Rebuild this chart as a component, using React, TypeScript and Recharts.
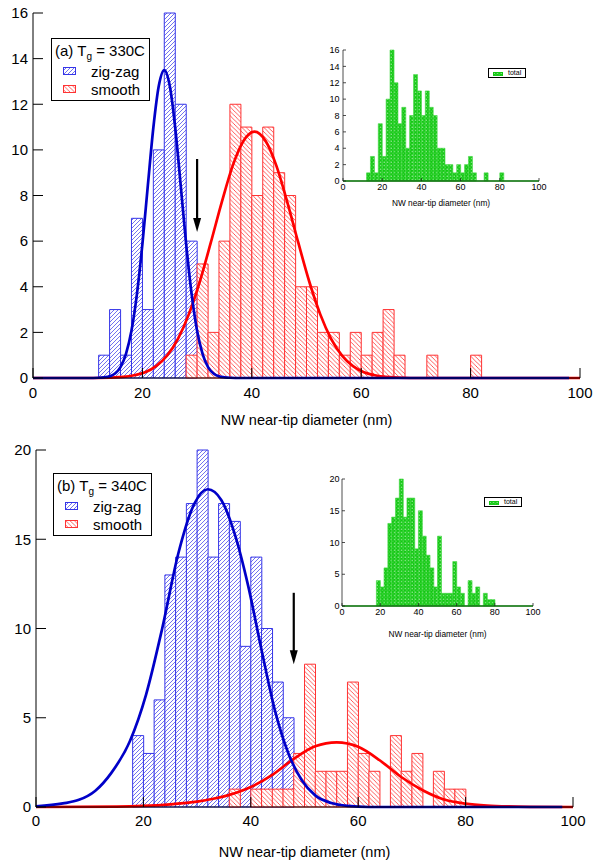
import React from 'react'
import { ComposedChart, BarChart, Bar, Line, XAxis, YAxis, ReferenceLine, Legend } from 'recharts'

const FONT = '"Liberation Sans", Arial, Helvetica, sans-serif'

// histogram counts in 2 nm bins; *_START is the left edge of the first bin
const BIN = 2
const ZIGZAG_A_START = 12
const zigzagA = [1, 3, 1, 7, 3, 10, 16, 12, 6]
const SMOOTH_A_START = 28
const smoothA = [1, 5, 2, 6, 12, 11, 8, 11, 9, 8, 4, 4, 2, 2, 1, 2, 1, 2, 3, 1, 0, 0, 1, 0, 0, 0, 1]
const TOTAL_A_START = 12
const totalA = [1, 3, 1, 7, 3, 10, 16, 12, 7, 9, 4, 8, 13, 11, 8, 11, 9, 8, 4, 4, 2, 2, 1, 2, 1, 2, 3, 1, 0, 0, 1, 0, 0, 0, 1]

const ZIGZAG_B_START = 18
const zigzagB = [4, 3, 6, 13, 14, 17, 20, 14, 17, 16, 9, 14, 10, 7, 5]
const SMOOTH_B_START = 36
const smoothB = [1, 0, 1, 1, 1, 1, 3, 8, 2, 2, 2, 7, 3, 2, 0, 4, 2, 3, 0, 2, 1, 1]
const TOTAL_B_START = 18
const totalB = [4, 3, 6, 13, 14, 17, 20, 14, 17, 17, 9, 15, 11, 8, 6, 3, 11, 2, 2, 2, 7, 3, 2, 0, 4, 2, 3, 0, 2, 1, 1]

// fitted curves, [diameter, count]
const fitZigzagA = [
  [0, 0], [10, 0], [12, 0.01], [13, 0.03], [14, 0.07], [15, 0.2], [16, 0.48], [17, 1.06], [18, 2.07],
  [19, 3.68], [20, 5.87], [21, 8.45], [22, 10.97], [23, 12.81], [24, 13.5], [25, 12.81], [26, 10.97],
  [27, 8.45], [28, 5.87], [29, 3.68], [30, 2.07], [31, 1.06], [32, 0.48], [33, 0.2], [34, 0.07],
  [35, 0.03], [36, 0.01], [38, 0], [98, 0],
]
const fitSmoothA = [
  [0, 0], [12, 0], [16.5, 0.05], [18.5, 0.12], [20.5, 0.25], [22.5, 0.52], [24.5, 0.98], [26.5, 1.72],
  [28.5, 2.8], [30.5, 4.23], [32.5, 5.93], [34.5, 7.7], [36.5, 9.3], [38.5, 10.4], [40.5, 10.8],
  [42.5, 10.4], [44.5, 9.3], [46.5, 7.7], [48.5, 5.93], [50.5, 4.23], [52.5, 2.8], [54.5, 1.72],
  [56.5, 0.98], [58.5, 0.52], [60.5, 0.25], [62.5, 0.12], [64.5, 0.05], [69, 0], [100, 0],
]
const fitZigzagB = [
  [0, 0.03], [5, 0.2], [8, 0.4], [11, 0.9], [14, 1.9], [17.5, 3.7], [20.5, 6.3], [23.5, 10.0],
  [26.5, 14.2], [29.5, 17.0], [32, 17.8], [34.5, 17.2], [37, 15.3], [39.5, 12.4], [42, 8.8],
  [44.5, 5.4], [47, 3.0], [49.5, 1.5], [52, 0.65], [55, 0.22], [58, 0.06], [62, 0], [98, 0],
]
const fitSmoothB = [
  [0, 0], [15, 0.02], [20, 0.06], [25, 0.15], [30, 0.3], [33, 0.46], [36, 0.68], [40, 1.12],
  [44, 1.8], [48, 2.7], [52, 3.4], [56, 3.62], [60, 3.37], [64, 2.62], [68, 1.68], [72, 0.94],
  [76, 0.42], [80, 0.19], [84, 0.08], [88, 0.03], [92, 0.01], [100, 0],
]

// arrows marking the zig-zag / smooth boundary
const arrowA = { x: 30, from: 9.6, to: 6.4 }
const arrowB = { x: 48, from: 12, to: 8 }

const xTicks = [0, 20, 40, 60, 80, 100]
const yTicksA = [0, 2, 4, 6, 8, 10, 12, 14, 16]
const yTicksB = [0, 5, 10, 15, 20]

function binTable(series: Record<string, [number, number[]]>) {
  const rows: any[] = []
  for (let lo = 0; lo < 100; lo += BIN) {
    const row: any = { x: lo + BIN / 2 }
    for (const key in series) {
      const [start, counts] = series[key]
      const i = (lo - start) / BIN
      row[key] = i >= 0 && i < counts.length ? counts[i] : 0
    }
    rows.push(row)
  }
  return rows
}

const toPoints = (pts: number[][]) => pts.map(([x, y]) => ({ x, y }))

const binsA = binTable({ zig: [ZIGZAG_A_START, zigzagA], smooth: [SMOOTH_A_START, smoothA] })
const binsB = binTable({ zig: [ZIGZAG_B_START, zigzagB], smooth: [SMOOTH_B_START, smoothB] })
const insetA = binTable({ total: [TOTAL_A_START, totalA] })
const insetB = binTable({ total: [TOTAL_B_START, totalB] })

const BLUE_BAR = '#3535e8'
const RED_BAR = '#ff3333'
const GREEN = '#12c812'

function Patterns() {
  return (
    <svg width={0} height={0} style={{ position: 'absolute' }}>
      <defs>
        <pattern id="hatchBlue" patternUnits="userSpaceOnUse" width={4} height={4}>
          <rect width={4} height={4} fill="#fff" />
          <path d="M-1,1 l2,-2 M0,4 l4,-4 M3,5 l2,-2" stroke={BLUE_BAR} strokeWidth={0.7} />
        </pattern>
        <pattern id="hatchRed" patternUnits="userSpaceOnUse" width={4.4} height={4.4}>
          <rect width={4.4} height={4.4} fill="#fff" />
          <path d="M-1,3.4 l2,2 M0,0 l4.4,4.4 M3.4,-1 l2,2" stroke={RED_BAR} strokeWidth={0.8} />
        </pattern>
        <pattern id="dotGreen" patternUnits="userSpaceOnUse" width={3.5} height={3.5}>
          <rect width={3.5} height={3.5} fill={GREEN} />
          <rect x={0.6} y={0.6} width={1.1} height={1.1} fill="#fff" opacity={0.85} />
          <rect x={2.35} y={2.35} width={0.8} height={0.8} fill="#fff" opacity={0.6} />
        </pattern>
      </defs>
    </svg>
  )
}

function ArrowShape(props: any) {
  const { x1, y1, x2, y2 } = props
  const head = 14
  return (
    <g>
      <line x1={x1} y1={y1} x2={x2} y2={y2 - head + 2} stroke="#000" strokeWidth={2.2} />
      <polygon points={`${x2 - 4},${y2 - head} ${x2 + 4},${y2 - head} ${x2},${y2}`} fill="#000" />
    </g>
  )
}

function Swatch({ left, top, w, h, fill, stroke }: any) {
  return (
    <svg width={w} height={h} style={{ position: 'absolute', left, top }}>
      <rect x={0.5} y={0.5} width={w - 1} height={h - 1} fill={fill} stroke={stroke} strokeWidth={1} />
    </svg>
  )
}

function PanelLegend({ tag, temp }: { tag: string; temp: string }) {
  const row = { position: 'absolute' as const, left: 39, lineHeight: '17px', whiteSpace: 'nowrap' as const }
  return (
    <div
      style={{
        position: 'relative', width: 99, height: 63, boxSizing: 'border-box', border: '1.2px solid #000',
        background: '#fff', fontFamily: FONT, fontSize: 15, color: '#000',
      }}
    >
      <div style={{ position: 'absolute', left: 3, top: 3, lineHeight: '17px', whiteSpace: 'nowrap' }}>
        ({tag}) T<span style={{ fontSize: 10, position: 'relative', top: 4 }}>g</span> = {temp}
      </div>
      <Swatch left={11} top={28} w={13} h={8} fill="url(#hatchBlue)" stroke={BLUE_BAR} />
      <div style={{ ...row, top: 24 }}>zig-zag</div>
      <Swatch left={11} top={45.5} w={13} h={8} fill="url(#hatchRed)" stroke={RED_BAR} />
      <div style={{ ...row, top: 41.5 }}>smooth</div>
    </div>
  )
}

function InsetLegend() {
  return (
    <div
      style={{
        position: 'relative', width: 38, height: 10, boxSizing: 'border-box', border: '0.8px solid #000',
        background: '#fff', fontFamily: FONT, fontSize: 7, color: '#000',
      }}
    >
      <Swatch left={4} top={2.5} w={10} h={4.5} fill="url(#dotGreen)" stroke={GREEN} />
      <div style={{ position: 'absolute', left: 19, top: 0, lineHeight: '8.5px' }}>total</div>
    </div>
  )
}

type PanelProps = {
  top: number
  height: number
  yAxisWidth: number
  margin: { top: number; right: number; bottom: number; left: number }
  xTickMargin: number
  labelOffset: number
  bins: any[]
  fitZig: number[][]
  fitSmooth: number[][]
  yMax: number
  yTicks: number[]
  arrow: { x: number; from: number; to: number }
  tag: string
  temp: string
  legendPos: { left: number; top: number }
}

function Panel(p: PanelProps) {
  const axisLine = { stroke: '#000', strokeWidth: 1 }
  const tick = { fill: '#000', fontSize: 15, fontFamily: FONT }
  return (
    <div style={{ position: 'absolute', left: 0, top: p.top }}>
      <ComposedChart width={593} height={p.height} data={p.bins} margin={p.margin} barCategoryGap={0} barGap={0}>
        <XAxis
          xAxisId="x" type="number" dataKey="x" domain={[0, 100]} ticks={xTicks} interval={0}
          tickSize={-10} tickMargin={p.xTickMargin} height={50} tick={tick} axisLine={axisLine} tickLine={axisLine}
          label={{ value: 'NW near-tip diameter (nm)', position: 'insideBottom', offset: p.labelOffset, fill: '#000', fontSize: 14.5, fontFamily: FONT }}
        />
        <XAxis
          xAxisId="top" orientation="top" type="number" dataKey="x" domain={[0, 100]} ticks={xTicks} interval={0}
          tickSize={-10} height={0} tick={false} axisLine={axisLine} tickLine={axisLine}
        />
        {/* separate hidden axes so red bars overlay blue ones and the fit curves don't shrink the bins */}
        <XAxis xAxisId="xr" hide type="number" dataKey="x" domain={[0, 100]} />
        <XAxis xAxisId="xl" hide type="number" dataKey="x" domain={[0, 100]} />
        <YAxis
          yAxisId="y" type="number" domain={[0, p.yMax]} ticks={p.yTicks} interval={0}
          tickSize={-10} tickMargin={15} width={p.yAxisWidth} tick={tick} axisLine={axisLine} tickLine={axisLine}
        />
        <YAxis
          yAxisId="right" orientation="right" type="number" domain={[0, p.yMax]} ticks={p.yTicks} interval={0}
          tickSize={-10} width={0} tick={false} axisLine={axisLine} tickLine={axisLine}
        />
        <Bar xAxisId="x" yAxisId="y" dataKey="zig" fill="url(#hatchBlue)" stroke={BLUE_BAR} strokeWidth={1} isAnimationActive={false} />
        <Bar xAxisId="xr" yAxisId="y" dataKey="smooth" fill="url(#hatchRed)" stroke={RED_BAR} strokeWidth={1} isAnimationActive={false} />
        <Line
          xAxisId="xl" yAxisId="y" data={toPoints(p.fitSmooth)} dataKey="y" type="monotone" dot={false}
          stroke="#ff0000" strokeWidth={2.7} isAnimationActive={false}
        />
        <Line
          xAxisId="xl" yAxisId="y" data={toPoints(p.fitZig)} dataKey="y" type="monotone" dot={false}
          stroke="#0000c8" strokeWidth={2.7} isAnimationActive={false}
        />
        <ReferenceLine
          xAxisId="xl" yAxisId="y"
          segment={[{ x: p.arrow.x, y: p.arrow.from }, { x: p.arrow.x, y: p.arrow.to }]}
          shape={ArrowShape}
        />
        <Legend
          layout="horizontal" verticalAlign="middle" align="center"
          wrapperStyle={{ left: p.legendPos.left, top: p.legendPos.top, width: 99, height: 63 }}
          content={() => <PanelLegend tag={p.tag} temp={p.temp} />}
        />
      </ComposedChart>
    </div>
  )
}

type InsetProps = {
  left: number
  top: number
  width: number
  height: number
  yAxisWidth: number
  xAxisHeight: number
  margin: { top: number; right: number; bottom: number; left: number }
  xTickMargin: number
  yTickMargin: number
  labelOffset: number
  data: any[]
  yMax: number
  yTicks: number[]
  legendPos: { left: number; top: number }
}

function Inset(p: InsetProps) {
  const axisLine = { stroke: '#222', strokeWidth: 0.8 }
  const tick = { fill: '#000', fontSize: 9, fontFamily: FONT }
  return (
    <div style={{ position: 'absolute', left: p.left, top: p.top }}>
      <BarChart width={p.width} height={p.height} data={p.data} margin={p.margin} barCategoryGap={0} barGap={0}>
        <XAxis
          xAxisId="x" type="number" dataKey="x" domain={[0, 100]} ticks={xTicks} interval={0}
          tickSize={-3} tickMargin={p.xTickMargin} height={p.xAxisHeight} tick={tick} axisLine={axisLine} tickLine={axisLine}
          label={{ value: 'NW near-tip diameter (nm)', position: 'insideBottom', offset: p.labelOffset, fill: '#000', fontSize: 8.3, fontFamily: FONT }}
        />
        <XAxis
          xAxisId="top" orientation="top" type="number" dataKey="x" domain={[0, 100]} ticks={xTicks} interval={0}
          tickSize={-3} height={0} tick={false} axisLine={axisLine} tickLine={axisLine}
        />
        <YAxis
          yAxisId="y" type="number" domain={[0, p.yMax]} ticks={p.yTicks} interval={0}
          tickSize={-3} tickMargin={p.yTickMargin} width={p.yAxisWidth} tick={tick} axisLine={axisLine} tickLine={axisLine}
        />
        <YAxis
          yAxisId="right" orientation="right" type="number" domain={[0, p.yMax]} ticks={p.yTicks} interval={0}
          tickSize={-3} width={0} tick={false} axisLine={axisLine} tickLine={axisLine}
        />
        <Bar xAxisId="x" yAxisId="y" dataKey="total" fill="url(#dotGreen)" stroke="#3fd63f" strokeWidth={0.6} isAnimationActive={false} />
        <ReferenceLine xAxisId="x" yAxisId="y" y={0} stroke={GREEN} strokeWidth={1.5} />
        <Legend
          layout="horizontal" verticalAlign="middle" align="center"
          wrapperStyle={{ left: p.legendPos.left, top: p.legendPos.top, width: 38, height: 10 }}
          content={() => <InsetLegend />}
        />
      </BarChart>
    </div>
  )
}

export default function App() {
  return (
    <div style={{ position: 'absolute', left: 0, top: 0, width: 593, height: 865, background: '#fff', overflow: 'hidden' }}>
      <Patterns />
      <Panel
        top={0} height={440} yAxisWidth={33} margin={{ top: 13, right: 13, bottom: 12, left: 0 }}
        xTickMargin={19} labelOffset={3} bins={binsA} fitZig={fitZigzagA} fitSmooth={fitSmoothA}
        yMax={16} yTicks={yTicksA} arrow={arrowA} tag="a" temp="330C" legendPos={{ left: 51, top: 38 }}
      />
      <Panel
        top={437} height={428} yAxisWidth={36} margin={{ top: 13, right: 20, bottom: 8, left: 0 }}
        xTickMargin={18} labelOffset={0} bins={binsB} fitZig={fitZigzagB} fitSmooth={fitSmoothB}
        yMax={20} yTicks={yTicksB} arrow={arrowB} tag="b" temp="340C" legendPos={{ left: 53, top: 36 }}
      />
      <Inset
        left={320} top={35} width={230} height={175} yAxisWidth={23} xAxisHeight={26}
        margin={{ top: 15, right: 11, bottom: 3, left: 0 }} xTickMargin={6} yTickMargin={6.5} labelOffset={1}
        data={insetA} yMax={16} yTicks={yTicksA} legendPos={{ left: 168, top: 33 }}
      />
      <Inset
        left={320} top={465} width={225} height={177} yAxisWidth={22} xAxisHeight={33}
        margin={{ top: 14, right: 12, bottom: 3, left: 0 }} xTickMargin={5.5} yTickMargin={5.5} labelOffset={2}
        data={insetB} yMax={20} yTicks={yTicksB} legendPos={{ left: 164, top: 32 }}
      />
    </div>
  )
}
